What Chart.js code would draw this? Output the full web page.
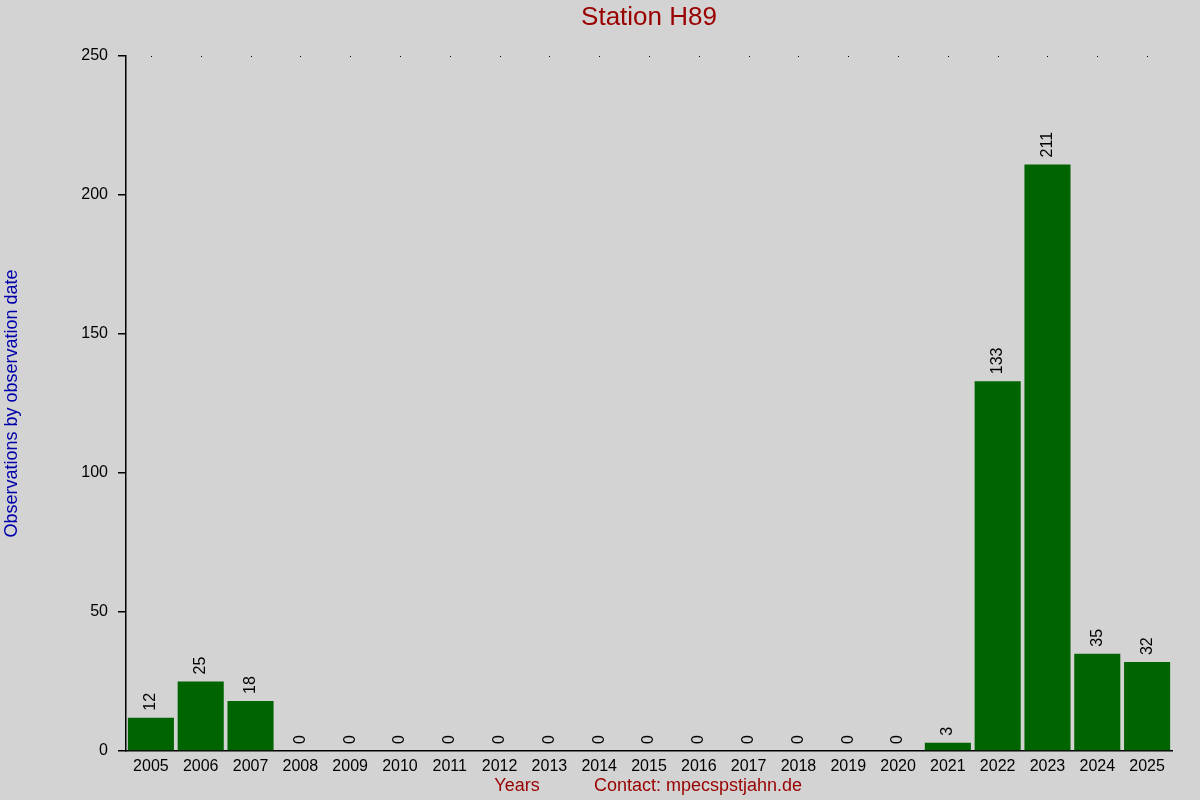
<!DOCTYPE html>
<html>
<head>
<meta charset="utf-8">
<script src="https://cdn.jsdelivr.net/npm/chart.js@4"></script>
<style>
  body { margin: 0; background: #d3d3d3; }
  #wrap { width: 1200px; height: 800px; }
</style>
</head>
<body>
<div id="wrap"><canvas id="stationChart" width="1200" height="800"></canvas></div>
<script>
// Observations per year for station H89
const years = ["2005", "2006", "2007", "2008", "2009", "2010", "2011", "2012", "2013", "2014",
  "2015", "2016", "2017", "2018", "2019", "2020", "2021", "2022", "2023", "2024", "2025"];
const counts = [12, 25, 18, 0, 0, 0, 0, 0, 0, 0, 0, 0, 0, 0, 0, 0, 3, 133, 211, 35, 32];
const yTicks = [0, 50, 100, 150, 200, 250];

const FONT = "'Liberation Sans', Arial, sans-serif";

// texts, value labels and the small dots along the top
const decorations = {
  id: "decorations",
  afterDraw(chart) {
    const ctx = chart.ctx;
    const area = chart.chartArea;
    const x = chart.scales.x;
    const meta = chart.getDatasetMeta(0);
    ctx.save();

    // value labels, rotated
    ctx.fillStyle = "#000";
    ctx.font = "16px " + FONT;
    ctx.textAlign = "left";
    ctx.textBaseline = "middle";
    meta.data.forEach((bar, i) => {
      ctx.save();
      ctx.translate(bar.x, bar.y - 7);
      ctx.rotate(-Math.PI / 2);
      ctx.fillText(String(counts[i]), 0, 0);
      ctx.restore();
    });

    // dots at the top
    ctx.fillStyle = "#000";
    years.forEach((y, i) => {
      ctx.fillRect(Math.round(x.getPixelForValue(i)), area.top, 1, 1);
    });

    // title
    ctx.textAlign = "center";
    ctx.fillStyle = "#990000";
    ctx.font = "26px " + FONT;
    ctx.fillText("Station H89", (area.left + area.right) / 2, 18);

    // bottom texts
    ctx.font = "18px " + FONT;
    ctx.fillText("Years", 517, 786);
    ctx.fillText("Contact: mpecspstjahn.de", 698, 786);

    // y title
    ctx.fillStyle = "#0000aa";
    ctx.save();
    ctx.translate(12, (area.top + area.bottom) / 2);
    ctx.rotate(-Math.PI / 2);
    ctx.fillText("Observations by observation date", 0, 0);
    ctx.restore();

    ctx.restore();
  }
};

new Chart(document.getElementById("stationChart"), {
  type: "bar",
  data: {
    labels: years,
    datasets: [{
      data: counts,
      backgroundColor: "#006400",
      borderWidth: 0,
      barPercentage: 0.925,
      categoryPercentage: 1
    }]
  },
  options: {
    responsive: false,
    devicePixelRatio: 1,
    animation: false,
    layout: { padding: { left: 0, right: 28, top: 56, bottom: 0 } },
    plugins: {
      legend: { display: false },
      tooltip: { enabled: false }
    },
    scales: {
      x: {
        offset: true,
        grid: { display: false },
        border: { display: true, color: "#000", width: 1.5 },
        ticks: {
          color: "#000",
          font: { family: FONT, size: 16 },
          padding: -2,
          maxRotation: 0,
          autoSkip: false
        },
        afterFit(s) { s.height = 49; }
      },
      y: {
        min: 0,
        max: 250,
        afterBuildTicks(s) { s.ticks = yTicks.map(v => ({ value: v })); },
        grid: {
          drawOnChartArea: false,
          drawTicks: true,
          tickLength: 8,
          color: "#000",
          lineWidth: 1.5
        },
        border: { display: true, color: "#000", width: 1.5 },
        ticks: {
          color: "#000",
          font: { family: FONT, size: 16 },
          padding: 10
        },
        afterFit(s) { s.width = 126; }
      }
    }
  },
  plugins: [decorations]
});
</script>
</body>
</html>
